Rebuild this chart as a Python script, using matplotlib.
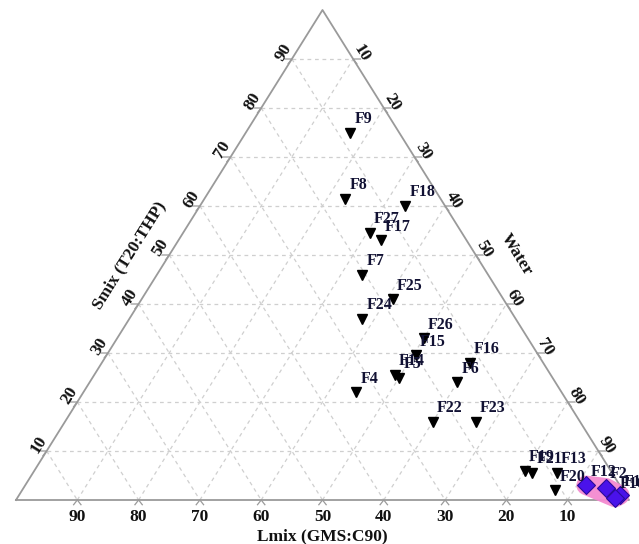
import numpy as np
import matplotlib
matplotlib.use("Agg")
import matplotlib.pyplot as plt
from matplotlib.patches import Polygon

plt.rcParams["font.family"] = ["Liberation Serif", "DejaVu Serif"]
plt.rcParams["font.weight"] = "bold"

# Formulations plotted as black triangles (percent composition)
tri_labels = ["F9", "F8", "F18", "F27", "F17", "F7", "F25", "F24", "F26", "F15",
              "F14", "F5", "F4", "F16", "F6", "F22", "F23", "F19", "F21", "F13", "F20"]
tri_lmix = [8, 15.5, 6.5, 15, 14, 20.5, 18, 25, 17, 20,
            25.5, 25, 33.5, 12, 16, 24, 17, 14, 13, 9, 11]
tri_smix = [75, 61.5, 60, 54.5, 53, 46, 41, 37, 33, 29.5,
            25.5, 25, 22, 28, 24, 16, 16, 6, 5.5, 5.5, 2]
tri_water = [17, 23, 33.5, 30.5, 33, 33.5, 41, 38, 50, 50.5,
             49, 50, 44.5, 60, 60, 60, 67, 80, 81.5, 85.5, 87]

# Formulations plotted as diamonds (microemulsion region)
dia_labels = ["F12", "F2", "F11", "F10"]
dia_lmix = [5.5, 2.5, 1, 2]
dia_smix = [3, 2.5, 1, 0.5]
dia_water = [91.5, 95, 98, 97.5]

ticks = [10, 20, 30, 40, 50, 60, 70, 80, 90]


def tern(lmix, smix, water):
    """Lmix -> bottom-left, Water -> bottom-right, Smix -> top."""
    l, s, w = (np.asarray(v, dtype=float) for v in (lmix, smix, water))
    tot = l + s + w
    s, w = s / tot, w / tot
    return w + s / 2.0, s


W, H = 639, 544
fig = plt.figure(figsize=(W / 100, H / 100), dpi=100)
ax = fig.add_axes([16 / W, (H - 500) / H, 613 / W, 490 / H])
ax.set_xlim(0, 1)
ax.set_ylim(0, 1)
ax.axis("off")

grid_kw = dict(color="#cfcfcf", lw=0.9, ls=(0, (3, 3)), zorder=1, clip_on=False)
tick_kw = dict(color="#9a9a9a", lw=0.9, zorder=1, clip_on=False)
tl = 0.012

for k in ticks:
    # constant Smix (horizontal)
    x, y = tern([100 - k, 0], [k, k], [0, 100 - k])
    ax.plot(x, y, **grid_kw)
    # constant Lmix
    x, y = tern([k, k], [100 - k, 0], [0, 100 - k])
    ax.plot(x, y, **grid_kw)
    # constant Water
    x, y = tern([100 - k, 0], [0, 100 - k], [k, k])
    ax.plot(x, y, **grid_kw)

    # chevron ticks: short outward extensions of grid lines
    bx, by = tern(k, 0, 100 - k)
    ax.plot([bx - tl * 0.5, bx, bx + tl * 0.5], [-tl * 0.8, 0, -tl * 0.8], **tick_kw)
    lx, ly = tern(100 - k, k, 0)
    ax.plot([lx - tl, lx, lx - tl * 0.5], [ly, ly, ly - tl * 0.8], **tick_kw)
    rx, ry = tern(0, 100 - k, k)
    ax.plot([rx + tl, rx, rx + tl * 0.5], [ry, ry, ry - tl * 0.8], **tick_kw)

# triangle outline
ox, oy = tern([100, 0, 0, 100], [0, 0, 100, 0], [0, 100, 0, 0])
ax.plot(ox, oy, color="#9a9a9a", lw=1.3, zorder=2, clip_on=False)

# side angles in display space
fig.canvas.draw()
p0 = ax.transData.transform((0, 0))
p1 = ax.transData.transform((0.5, 1))
ang = np.degrees(np.arctan2(p1[1] - p0[1], p1[0] - p0[0]))

lab_kw = dict(fontsize=12.5, fontweight="bold", color="#111111",
              textcoords="offset points", ha="center", va="center")
for k in ticks:
    bx, by = tern(k, 0, 100 - k)
    ax.annotate(str(k), (bx, by), xytext=(0, -12), **lab_kw)
    lx, ly = tern(100 - k, k, 0)
    ax.annotate(str(k), (lx, ly), xytext=(-6, 5), rotation=ang, **lab_kw)
    rx, ry = tern(0, 100 - k, k)
    ax.annotate(str(k), (rx, ry), xytext=(6, 4), rotation=-ang, **lab_kw)

title_kw = dict(fontsize=12.5, fontweight="bold", color="#111111",
                textcoords="offset points", ha="center", va="center")
ax.annotate("Lmix (GMS:C90)", (0.5, 0), xytext=(0, -26), **title_kw)
ax.annotate("Smix (T20:THP)", (0.25, 0.5), xytext=(-29, 0), rotation=ang, **title_kw)
ax.annotate("Water", (0.75, 0.5), xytext=(29, 0), rotation=-ang, **title_kw)

# microemulsion region
dx, dy = tern(dia_lmix, dia_smix, dia_water)
region = Polygon(np.column_stack([dx, dy]), closed=True, facecolor="#f48ad0",
                 edgecolor="#f48ad0", lw=14, joinstyle="round", alpha=0.95,
                 zorder=3, clip_on=False)
ax.add_patch(region)
ax.plot(dx, dy, ls="none", marker="D", ms=9, mfc="#4a12ea", mec="#2a0a9a",
        mew=0.8, zorder=5, clip_on=False)

tx, ty = tern(tri_lmix, tri_smix, tri_water)
ax.plot(tx, ty, ls="none", marker="v", ms=7.5, color="black", zorder=5, clip_on=False)

pt_kw = dict(fontsize=11.5, fontweight="bold", color="#111133",
             textcoords="offset points", ha="left", va="bottom", zorder=6,
             annotation_clip=False)
for name, x, y in zip(tri_labels, tx, ty):
    ax.annotate(name, (x, y), xytext=(3, 4), **pt_kw)
for name, x, y in zip(dia_labels, dx, dy):
    ax.annotate(name, (x, y), xytext=(3, 4), **pt_kw)

fig.savefig("out.png", dpi=100, facecolor="white")
